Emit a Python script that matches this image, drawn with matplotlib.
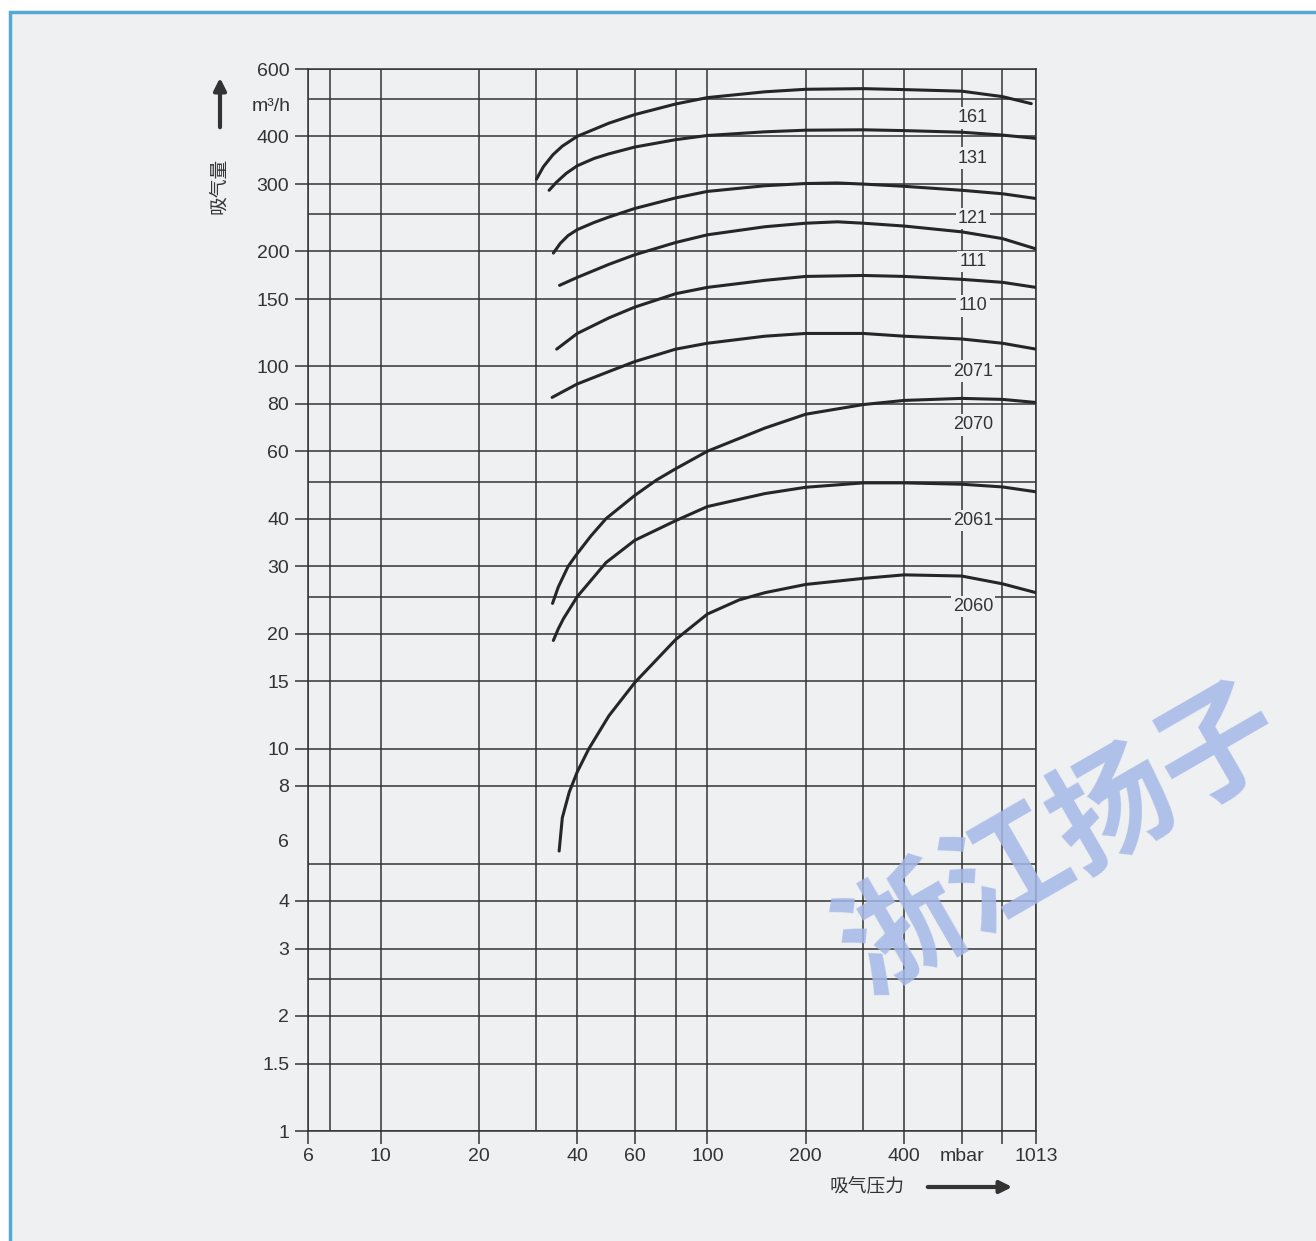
import matplotlib
matplotlib.use("Agg")
import matplotlib.pyplot as plt
from matplotlib.patches import Rectangle
from matplotlib.ticker import FixedLocator, FixedFormatter, NullLocator
from matplotlib.transforms import blended_transform_factory

plt.rcParams["font.family"] = ["Liberation Sans", "Noto Sans CJK SC", "DejaVu Sans"]

# 吸气压力 (mbar) / 吸气量 (m3/h)
p_161 = [30, 31.5, 33.7, 36, 40, 50, 60, 80, 100, 150, 200, 300, 400, 600, 800, 980]
q_161 = [309, 333, 358, 377, 400, 433, 456, 486, 505, 523, 531, 533, 530, 525, 508, 487]

p_131 = [32.8, 34.5, 37, 40, 45, 50, 60, 80, 100, 150, 200, 300, 400, 600, 800, 1013]
q_131 = [289, 303, 320, 335, 350, 360, 375, 392, 402, 411, 415, 416, 414, 410, 403, 395]

p_121 = [33.8, 35.5, 37.5, 40, 45, 50, 60, 80, 100, 150, 200, 250, 300, 400, 600, 800, 1013]
q_121 = [198, 210, 220, 228, 238, 246, 259, 276, 287, 297, 301, 302, 300, 296, 289, 283, 275]

p_111 = [35.3, 40, 50, 60, 80, 100, 150, 200, 250, 300, 400, 600, 800, 1013]
q_111 = [163, 171, 185, 196, 211, 221, 232, 237, 239, 237, 233, 225, 216, 203]

p_110 = [34.6, 40, 50, 60, 80, 100, 150, 200, 300, 400, 600, 800, 1013]
q_110 = [111, 122, 134, 143, 155, 161, 168, 172, 173, 172, 169, 166, 161]

p_2071 = [33.5, 40, 50, 60, 80, 100, 150, 200, 300, 400, 600, 800, 1013]
q_2071 = [83, 90, 97, 103, 111, 115, 120, 122, 122, 120, 118, 115, 111]

p_2070 = [33.6, 35, 37.5, 40, 44, 49, 60, 70, 80, 100, 150, 200, 300, 400, 600, 800, 1013]
q_2070 = [24, 26.5, 30, 32.4, 36, 40, 46, 50.5, 54, 60, 69, 75, 79.5, 81.5, 82.5, 82, 80.5]

p_2061 = [33.8, 35, 36.3, 40, 49, 60, 80, 100, 150, 200, 300, 400, 600, 800, 1013]
q_2061 = [19.2, 20.6, 21.9, 25, 30.7, 35.1, 39.5, 43, 46.5, 48.3, 49.6, 49.6, 49.2, 48.4, 47]

p_2060 = [35.2, 36, 37.8, 40, 43.4, 50, 60, 80, 100, 125, 150, 200, 300, 400, 600, 800, 1013]
q_2060 = [5.4, 6.6, 7.7, 8.7, 10, 12.2, 14.9, 19.3, 22.5, 24.5, 25.6, 26.9, 27.9, 28.5, 28.3, 27.0, 25.6]

curves = [
    ("161", p_161, q_161, 447),
    ("131", p_131, q_131, 351),
    ("121", p_121, q_121, 244),
    ("111", p_111, q_111, 188),
    ("110", p_110, q_110, 144),
    ("2071", p_2071, q_2071, 97.3),
    ("2070", p_2070, q_2070, 70.3),
    ("2061", p_2061, q_2061, 39.6),
    ("2060", p_2060, q_2060, 23.6),
]
label_p = 650

x_ticks = [6, 10, 20, 40, 60, 100, 200, 400, 600, 800, 1013]
x_labels = ["6", "10", "20", "40", "60", "100", "200", "400", "mbar", "", "1013"]
x_grid_extra = [7, 30, 80, 300]

y_ticks = [1, 1.5, 2, 3, 4, 8, 10, 15, 20, 30, 40, 60, 80, 100, 150, 200, 300, 400, 600]
y_labels = ["1", "1.5", "2", "3", "4", "8", "10", "15", "20", "30", "40", "60", "80",
            "100", "150", "200", "300", "400", "600"]
y_grid_extra = [2.5, 5, 25, 50, 250, 500]

W, H = 1316, 1241
bg = "#eef0f2"
ink = "#333333"

fig = plt.figure(figsize=(W / 100, H / 100), dpi=100, facecolor="white")
fig.add_artist(Rectangle((10 / W, -0.05), 1, 1.05 - 12 / H, transform=fig.transFigure,
                         facecolor=bg, edgecolor="#55a8d4", linewidth=2.5, zorder=0))

ax = fig.add_axes([308 / W, 110 / H, 728 / W, 1062 / H])
ax.set_facecolor(bg)
ax.set_xscale("log")
ax.set_yscale("log")
ax.set_xlim(6, 1013)
ax.set_ylim(1, 600)

for v in x_ticks + x_grid_extra:
    ax.axvline(v, color=ink, lw=1.1, zorder=1)
for v in y_ticks + y_grid_extra:
    ax.axhline(v, color=ink, lw=1.1, zorder=1)
for s in ax.spines.values():
    s.set_color(ink)
    s.set_linewidth(1.1)

ax.xaxis.set_major_locator(FixedLocator(x_ticks))
ax.xaxis.set_major_formatter(FixedFormatter(x_labels))
ax.xaxis.set_minor_locator(NullLocator())
ax.yaxis.set_major_locator(FixedLocator(y_ticks))
ax.yaxis.set_major_formatter(FixedFormatter(y_labels))
ax.yaxis.set_minor_locator(NullLocator())
ax.tick_params(axis="both", direction="out", length=9.5, width=1.1, color=ink,
               labelsize=14, labelcolor=ink, pad=4)
ax.tick_params(axis="x", pad=3)

ytr = blended_transform_factory(ax.transAxes, ax.transData)
ax.text(-0.026, 5.7, "6", transform=ytr, ha="right", va="center", fontsize=14, color=ink)
ax.text(-0.024, 480, "m³/h", transform=ytr, ha="right", va="center", fontsize=14, color=ink)

for name, p, q, ly in curves:
    ax.plot(p, q, color="#262626", lw=2.2, solid_capstyle="round",
            solid_joinstyle="round", zorder=3)
    ax.text(label_p, ly, name, ha="center", va="center", fontsize=13, color=ink, zorder=4,
            bbox=dict(facecolor=bg, edgecolor="none", pad=1.5))

fig.text(219 / W, 1 - 186 / H, "吸气量", rotation=90, ha="center", va="center",
         fontsize=13.5, color=ink)
ax.annotate("", xy=(220, H - 75), xytext=(220, H - 130), xycoords="figure pixels",
            textcoords="figure pixels",
            arrowprops=dict(arrowstyle="-|>", lw=3, color=ink, mutation_scale=18))
fig.text(867 / W, 1 - 1186 / H, "吸气压力", ha="center", va="center", fontsize=13.5,
         color=ink)
ax.annotate("", xy=(1015, H - 1187), xytext=(925, H - 1187), xycoords="figure pixels",
            textcoords="figure pixels",
            arrowprops=dict(arrowstyle="-|>", lw=3, color=ink, mutation_scale=18))

fig.text(852 / W, 1 - 966 / H, "浙江扬子", rotation=30, rotation_mode="anchor",
         ha="left", va="center", fontsize=88, fontweight="bold", color="#a4b8e8",
         alpha=0.85, zorder=10)

fig.savefig("out.png", dpi=100, facecolor=fig.get_facecolor())
